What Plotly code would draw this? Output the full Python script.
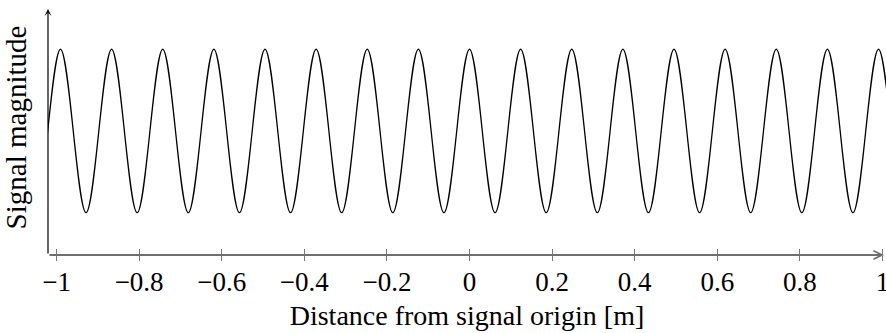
import plotly.graph_objects as go

# ---- data ----
# positions [m] of successive peaks/troughs of the signal, and their magnitude
extrema_x = [-1.1142, -1.0523, -0.9904, -0.9285, -0.8666, -0.8047, -0.7428, -0.6809, -0.6190,
             -0.5571, -0.4952, -0.4333, -0.3714, -0.3095, -0.2476, -0.1857, -0.1238,
             -0.0619, 0.0, 0.0619, 0.1238, 0.1857, 0.2476, 0.3095, 0.3714, 0.4333,
             0.4952, 0.5571, 0.6190, 0.6809, 0.7428, 0.8047, 0.8666, 0.9285, 0.9904,
             1.0523, 1.1142]
extrema_y = [1, -1, 1, -1, 1, -1, 1, -1, 1, -1, 1, -1, 1, -1, 1, -1, 1, -1,
             1, -1, 1, -1, 1, -1, 1, -1, 1, -1, 1, -1, 1, -1, 1, -1, 1, -1, 1]

tick_vals = [-1, -0.8, -0.6, -0.4, -0.2, 0, 0.2, 0.4, 0.6, 0.8, 1]
tick_text = ["−1", "−0.8", "−0.6", "−0.4", "−0.2", "0", "0.2", "0.4", "0.6", "0.8", "1"]

x_title = "Distance from signal origin [m]"
y_title = "Signal magnitude"

X_RANGE = [-1.0206, 1.0085]
Y_RANGE = [-1.518, 1.603]
FONT = "Liberation Serif"

fig = go.Figure()
fig.add_trace(go.Scatter(
    x=extrema_x, y=extrema_y, mode="lines",
    line=dict(color="black", width=1.3, shape="spline", smoothing=1),
    showlegend=False, hoverinfo="skip",
))
# dummy trace on overlay axis for inner tick marks
fig.add_trace(go.Scatter(x=[X_RANGE[0]], y=[Y_RANGE[0]], xaxis="x2", mode="lines",
                         showlegend=False, hoverinfo="skip", line=dict(width=0)))

fig.update_layout(
    width=886, height=333,
    margin=dict(l=48, r=0, t=0, b=78),
    paper_bgcolor="white", plot_bgcolor="white",
    font=dict(family=FONT, size=27, color="black"),
    xaxis=dict(
        range=X_RANGE, tickvals=tick_vals, ticktext=tick_text,
        ticks="outside", ticklen=5, tickwidth=1.2, tickcolor="#777777",
        showgrid=False, zeroline=False, showline=False,
        tickfont=dict(family=FONT, size=27, color="black"),
        ticklabeloverflow="allow", ticklabelstandoff=-2,
        title=dict(text=x_title, font=dict(family=FONT, size=28), standoff=8),
        automargin=False,
    ),
    xaxis2=dict(
        range=X_RANGE, overlaying="x", side="bottom", tickvals=tick_vals,
        ticks="inside", ticklen=6, tickwidth=1.2, tickcolor="#777777",
        showticklabels=False, showgrid=False, zeroline=False, showline=False,
        automargin=False,
    ),
    yaxis=dict(
        range=Y_RANGE, showticklabels=False, ticks="", showgrid=False,
        zeroline=False, showline=False,
        title=dict(text=y_title, font=dict(family=FONT, size=29), standoff=12),
        automargin=False,
    ),
)

# axis lines with arrows
fig.add_annotation(x=X_RANGE[0], y=1.493, ax=X_RANGE[0], ay=Y_RANGE[0],
                   xref="x", yref="y", axref="x", ayref="y", text="",
                   showarrow=True, arrowhead=3, arrowsize=1, arrowwidth=1.2,
                   arrowcolor="black", standoff=0)
fig.add_annotation(x=1.0036, y=Y_RANGE[0], ax=X_RANGE[0], ay=Y_RANGE[0],
                   xref="x", yref="y", axref="x", ayref="y", text="",
                   showarrow=True, arrowhead=5, arrowsize=0.85, arrowwidth=2,
                   arrowcolor="#6e6e6e", standoff=0)

fig.write_html("out.html")
